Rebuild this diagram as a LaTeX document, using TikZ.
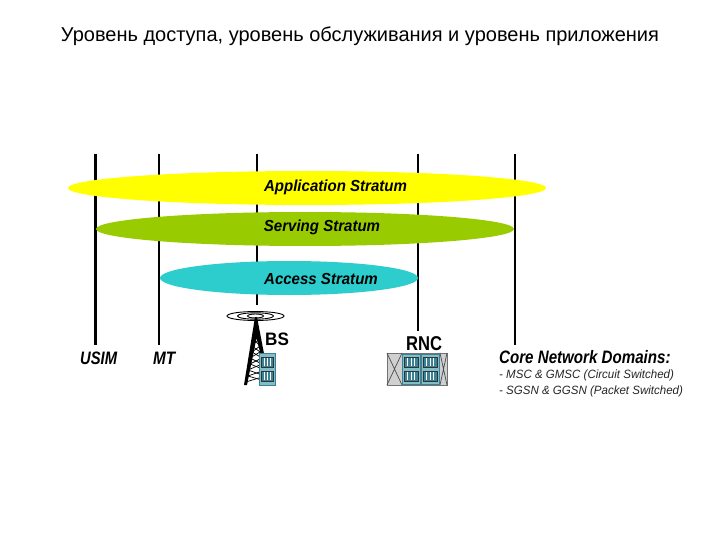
\documentclass[tikz,border=0pt]{standalone}
\usepackage{graphicx}
\usepackage{fontspec}
\setmainfont{Liberation Sans}
\usetikzlibrary{shapes.geometric}
\definecolor{yel}{RGB}{255,255,0}
\definecolor{grn}{RGB}{153,204,0}
\definecolor{cyn}{RGB}{45,205,205}
\definecolor{teal1}{RGB}{60,130,150}
\definecolor{teal2}{RGB}{130,190,200}
\definecolor{gry}{RGB}{208,208,208}
\newcommand{\nrw}[2]{\scalebox{#1}[1]{#2}}
\tikzset{
 stratum/.style={ellipse,inner sep=0pt,outer sep=0pt,draw=none},
 strtxt/.style={inner sep=0pt,font=\fontsize{16}{18}\selectfont\bfseries\itshape},
 lbl/.style={inner sep=0pt,font=\fontsize{18}{20}\selectfont\bfseries\itshape,anchor=west},
 sublbl/.style={inner sep=0pt,font=\fontsize{12}{14}\selectfont\itshape,anchor=west,color=black!85},
 pole/.style={draw=black},
 tower/.style={draw=black,line width=.8pt},
 cabinet/.style={draw=teal1,fill=teal2,line width=.8pt},
 shelf/.style={draw=black!80,fill=teal1,line width=.5pt},
}
\begin{document}
\begin{tikzpicture}[x=1pt,y=-1pt]
\useasboundingbox (0,0) rectangle (720,540);
\fill[white] (0,0) rectangle (720,540);
\node[inner sep=0pt,font=\fontsize{20}{22}\selectfont] (title) at (360,36) {Уровень доступа, уровень обслуживания и уровень приложения};

\coordinate (t1) at (95,154);\coordinate (b1) at (95,345);
\coordinate (t2) at (159,154);\coordinate (b2) at (159,345);
\coordinate (t3) at (257,154);\coordinate (b3) at (257,305);
\coordinate (t4) at (418,154);\coordinate (b4) at (418,331);
\coordinate (t5) at (515,154);\coordinate (b5) at (515,345);
\draw[pole,line width=3pt] (t1)--(b1);
\draw[pole,line width=1.8pt] (t2)--(b2);
\draw[pole,line width=1.8pt] (t3)--(b3);
\draw[pole,line width=1.8pt] (t4)--(b4);
\draw[pole,line width=1.8pt] (t5)--(b5);

\node[stratum,fill=yel,minimum width=478pt,minimum height=34pt] (app) at (307,188) {};
\node[stratum,fill=grn,minimum width=418pt,minimum height=34pt] (srv) at (305,229) {};
\node[stratum,fill=cyn,minimum width=258pt,minimum height=34pt] (acc) at (289,278) {};
\node[strtxt] (appt) at (335.5,187) {\nrw{.94}{Application Stratum}};
\node[strtxt] (srvt) at (322,227) {\nrw{.94}{Serving Stratum}};
\node[strtxt] (acct) at (321,279) {\nrw{.94}{Access Stratum}};

\node[lbl] (usim) at (80,358) {\nrw{.82}{USIM}};
\node[lbl] (mt) at (153,358) {\nrw{.85}{MT}};
\node[lbl,font=\fontsize{18}{20}\selectfont\bfseries] (bs) at (265,339) {\nrw{.95}{BS}};
\node[lbl,font=\fontsize{20}{22}\selectfont\bfseries] (rnc) at (406,344) {\nrw{.83}{RNC}};
\node[lbl] (core) at (499,357) {\nrw{.84}{Core Network Domains:}};
\node[sublbl] (d1) at (499,375) {\nrw{.96}{- MSC \& GMSC (Circuit Switched)}};
\node[sublbl] (d2) at (499,391.5) {\nrw{.96}{- SGSN \& GGSN (Packet Switched)}};

% antenna
\draw[tower,line width=.9pt] (255.5,316) ellipse (28.5 and 4.5);
\draw[tower,line width=.9pt] (255.5,316) ellipse (18 and 3.2);
\draw[tower,line width=.9pt] (255.5,316) ellipse (8 and 2);
% tower
\fill (255,317)--(257,317)--(270,385)--(268,385)--(256.5,338)--(247,385)--(244,385)--cycle;
\draw[tower,line width=.7pt] (254,340)--(260,346)--(252,352)--(262,358)--(250,364)--(265,370)--(248,376)--(268,382);
\draw[tower,line width=.7pt] (258,340)--(252,346)--(260,352)--(250,358)--(262,364)--(248,370)--(265,376)--(246,382);
% BS cabinet
\draw[cabinet] (259.5,353.5) rectangle (275.5,385);
\foreach \yy in {357,371}{
  \draw[shelf] (261.5,\yy) rectangle (273.5,\yy+10);
  \draw[white,line width=.5pt] (264.5,\yy+1)--(264.5,\yy+9) (267.5,\yy+1)--(267.5,\yy+9) (270.5,\yy+1)--(270.5,\yy+9);
}
% RNC
\draw[draw=black!55,fill=gry,line width=.6pt] (387,353) rectangle (447,385);
\draw[black!70,line width=.7pt] (387,353)--(402,385) (402,353)--(387,385) (440,353)--(447,385) (447,353)--(440,385);
\foreach \xx in {402,421}{
  \draw[cabinet] (\xx,354) rectangle (\xx+18,384);
  \foreach \yy in {357,371}{
    \draw[shelf] (\xx+2,\yy) rectangle (\xx+16,\yy+10);
    \draw[white,line width=.5pt] (\xx+5.5,\yy+1)--(\xx+5.5,\yy+9) (\xx+9,\yy+1)--(\xx+9,\yy+9) (\xx+12.5,\yy+1)--(\xx+12.5,\yy+9);
  }
}
\end{tikzpicture}
\end{document}
